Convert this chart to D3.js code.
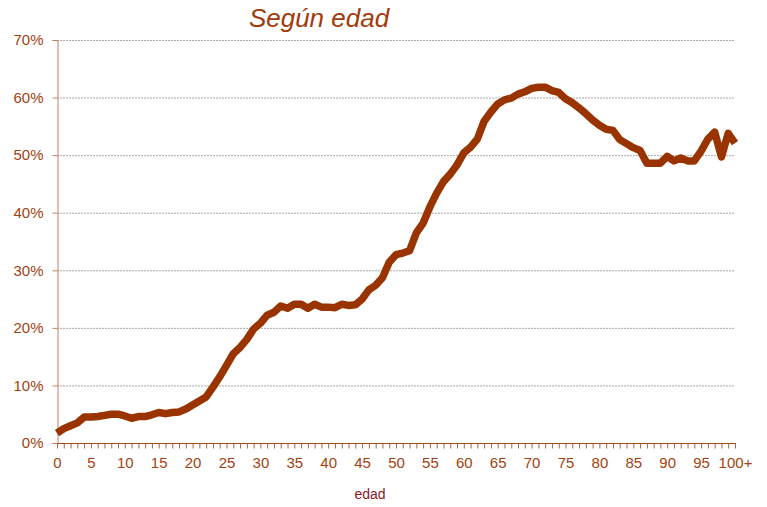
<!DOCTYPE html>
<html>
<head>
<meta charset="utf-8">
<script src="https://cdn.jsdelivr.net/npm/d3@7"></script>
<style>
  body { margin: 0; background: #fff; }
  svg { font-family: "Liberation Sans", Arial, sans-serif; }
</style>
</head>
<body>
<svg id="chart" width="767" height="507"></svg>
<script>
// ages 0..100 (last one is "100+")
var ages = d3.range(0, 101);

// share per age (%)
var share = [
  1.7, 2.5, 3.0, 3.5, 4.5, 4.5, 4.6, 4.8, 5.0, 5.0,
  4.7, 4.3, 4.6, 4.6, 4.9, 5.3, 5.1, 5.3, 5.4, 5.9,
  6.6, 7.3, 8.0, 9.7, 11.5, 13.5, 15.5, 16.6, 18.0, 19.8,
  20.8, 22.2, 22.7, 23.8, 23.4, 24.1, 24.1, 23.4, 24.1, 23.6,
  23.6, 23.5, 24.1, 23.9, 24.0, 25.0, 26.6, 27.4, 28.7, 31.4,
  32.7, 33.0, 33.4, 36.5, 38.2, 41.0, 43.4, 45.4, 46.7, 48.3,
  50.4, 51.4, 52.8, 55.9, 57.5, 58.9, 59.6, 59.9, 60.6, 61.0,
  61.6, 61.8, 61.8, 61.2, 60.9, 59.8, 59.1, 58.2, 57.2, 56.1,
  55.2, 54.5, 54.3, 52.7, 52.0, 51.3, 50.8, 48.6, 48.6, 48.6,
  49.8, 49.0, 49.5, 49.0, 49.0, 50.7, 52.8, 54.0, 49.7, 53.8,
  52.1
];

var xTickLabels = ["0", "5", "10", "15", "20", "25", "30", "35", "40", "45", "50",
                   "55", "60", "65", "70", "75", "80", "85", "90", "95", "100+"];
var yTicks = [0, 10, 20, 30, 40, 50, 60, 70];

var svg = d3.select("#chart");
var plotLeft = 57, plotRight = 735, plotTop = 40, plotBottom = 443;

var x = d3.scaleLinear().domain([0, 100]).range([plotLeft, plotRight]);
var y = d3.scaleLinear().domain([0, 70]).range([plotBottom, plotTop]);

var labelColor = "#a3420f";

// dotted gridlines
svg.append("g")
  .selectAll("line")
  .data(yTicks.filter(d => d > 0))
  .enter()
  .append("line")
  .attr("x1", plotLeft)
  .attr("x2", plotRight)
  .attr("y1", d => y(d) + 0.5)
  .attr("y2", d => y(d) + 0.5)
  .attr("stroke", "#a8a8a8")
  .attr("stroke-width", 1)
  .attr("stroke-dasharray", "2,1");

// y axis
var yAxis = svg.append("g")
  .attr("transform", `translate(${plotLeft + 0.5},0)`)
  .call(d3.axisLeft(y).tickValues(yTicks).tickSize(5).tickPadding(9).tickFormat(d => d + "%"));
yAxis.select(".domain").attr("stroke", "#c08060");
yAxis.selectAll(".tick line").attr("stroke", "#c08060");
yAxis.selectAll("text")
  .attr("fill", labelColor)
  .style("font-size", "15px")
  .style("font-family", "'Liberation Sans', Arial, sans-serif");

// x axis, a tick for every age, a label every 5
var xAxis = svg.append("g")
  .attr("transform", `translate(0,${plotBottom + 0.5})`)
  .call(d3.axisBottom(x).tickValues(ages).tickSize(5).tickPadding(9)
    .tickFormat(d => d % 5 === 0 ? xTickLabels[d / 5] : ""));
xAxis.select(".domain").attr("stroke", "#a04a1a").attr("d", `M${plotLeft},0H${plotRight + 1}`);
xAxis.selectAll(".tick line").attr("stroke", "#b0603a");
xAxis.selectAll("text")
  .attr("fill", labelColor)
  .style("font-size", "15px")
  .style("font-family", "'Liberation Sans', Arial, sans-serif");

// the series line
var line = d3.line()
  .x((d, i) => x(ages[i]))
  .y(d => y(d));

svg.append("path")
  .datum(share)
  .attr("d", line)
  .attr("fill", "none")
  .attr("stroke", "#993300")
  .attr("stroke-width", 7.5)
  .attr("stroke-linejoin", "round")
  .attr("stroke-linecap", "butt");

// title
svg.append("text")
  .attr("x", 319)
  .attr("y", 27)
  .attr("text-anchor", "middle")
  .attr("fill", "#a33a0c")
  .style("font-size", "26px")
  .style("font-style", "italic")
  .text("Según edad");

// axis title
svg.append("text")
  .attr("x", 370)
  .attr("y", 499)
  .attr("text-anchor", "middle")
  .attr("fill", "#8b1a1a")
  .style("font-size", "14px")
  .text("edad");
</script>
</body>
</html>
